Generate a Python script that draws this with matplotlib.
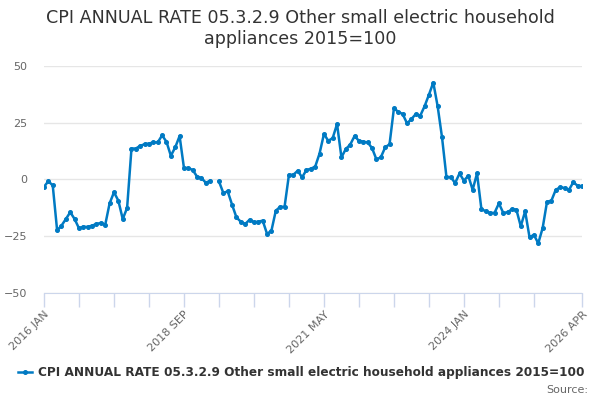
import numpy as np
import matplotlib.pyplot as plt

# monthly values, 2016 JAN .. 2026 APR (nan = missing month)
rate_2016_2019 = [-3.3, -0.8, -2.7, -22.5, -20.4, -17.5, -14.5, -17.5, -21.6, -20.9, -21.0, -20.4,
                  -19.7, -19.2, -20.0, -10.6, -5.7, -9.4, -17.5, -12.6, 13.6, 13.6, 14.8, 15.5,
                  15.8, 16.3, 16.3, 19.4, 16.6, 10.4, 14.1, 19.1, 5.0, 5.0, 4.1, 1.2,
                  0.6, -1.5, -0.6, np.nan, -0.9, -6.0, -5.3, -11.2, -16.8, -18.7, -19.7, -17.8]
rate_2020_2023 = [-18.9, -18.7, -18.2, -24.1, -22.6, -13.8, -12.1, -12.1, 2.0, 2.0, 3.8, 0.9,
                  4.1, 4.7, 5.6, 11.4, 20.0, 17.0, 18.2, 24.4, 9.7, 13.4, 15.3, 19.1,
                  17.0, 16.6, 16.3, 13.8, 8.8, 9.7, 14.1, 15.5, 31.3, 29.8, 28.8, 24.7,
                  26.6, 28.8, 28.0, 32.2, 37.3, 42.7, 32.2, 18.5, 1.2, 0.9, -1.6, 2.6]
rate_2024_2026 = [-0.6, 1.6, -4.6, 2.6, -13.1, -14.1, -14.8, -14.8, -10.6, -14.8, -14.5, -13.1,
                  -13.4, -20.7, -14.1, -25.5, -24.5, -28.2, -21.5, -9.9, -9.4, -4.6, -3.5, -3.8,
                  -4.7, -1.3, -2.8, -3.1]
values = np.array(rate_2016_2019 + rate_2020_2023 + rate_2024_2026, dtype=float)

month_names = ['JAN', 'FEB', 'MAR', 'APR', 'MAY', 'JUN', 'JUL', 'AUG', 'SEP', 'OCT', 'NOV', 'DEC']
months = [f'{2016 + i // 12} {month_names[i % 12]}' for i in range(len(values))]

title = 'CPI ANNUAL RATE 05.3.2.9 Other small electric household appliances 2015=100'
line_color = '#007ac3'

plt.rcParams['font.family'] = 'DejaVu Sans'
fig = plt.figure(figsize=(6, 4), dpi=100)
ax = fig.add_axes([44 / 600, 1 - 292.7 / 400, 538 / 600, 226.7 / 400])

x = np.arange(len(values))
ax.plot(x, values, color=line_color, lw=1.8, marker='o', ms=2.6, label=title, zorder=3)

ax.set_xlim(0, len(values) - 1)
ax.set_ylim(-50, 50)
ax.set_yticks([-50, -25, 0, 25, 50])
ax.grid(axis='y', color='#e6e6e6', lw=1)
ax.set_axisbelow(True)

ticks = list(range(0, 113, 8)) + [len(values) - 1]
ax.set_xticks(ticks)
ax.set_xticklabels([months[t] if (t % 32 == 0 or t == len(values) - 1) else '' for t in ticks],
                   rotation=45, ha='right', rotation_mode='anchor')
ax.tick_params(axis='x', colors='#ccd6eb', length=10, width=1, labelcolor='#666666', labelsize=8, pad=2)
ax.tick_params(axis='y', length=0, labelcolor='#666666', labelsize=8, pad=12)

for side in ['top', 'right', 'left']:
    ax.spines[side].set_visible(False)
ax.spines['bottom'].set_color('#ccd6eb')

fig.text(0.5, 0.978, 'CPI ANNUAL RATE 05.3.2.9 Other small electric household\nappliances 2015=100',
         ha='center', va='top', fontsize=12.6, color='#333333', linespacing=1.25)

leg = fig.legend(loc='center', bbox_to_anchor=(0.502, 0.068), frameon=False, handlelength=1.2,
                 handletextpad=0.45, prop={'size': 8.7, 'weight': 'bold'})
for t in leg.get_texts():
    t.set_color('#333333')

fig.text(0.98, 0.025, 'Source:', ha='right', va='center', fontsize=8, color='#666666')

fig.savefig('out.png', dpi=100)
